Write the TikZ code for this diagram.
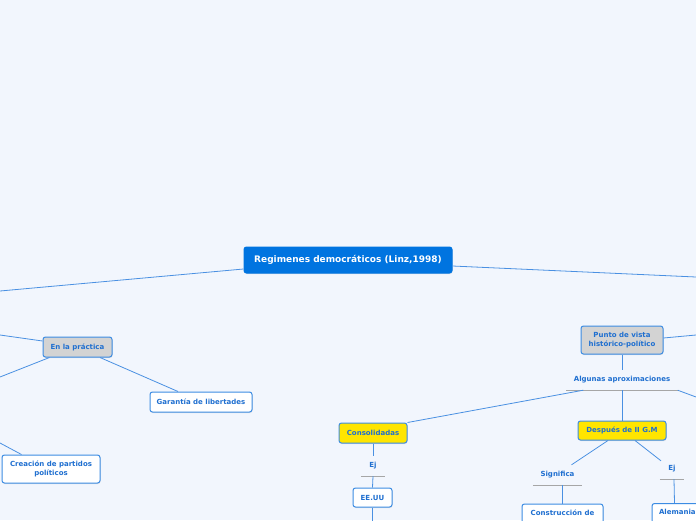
\documentclass[tikz,border=0pt]{standalone}
\usepackage{fontspec}
\setmainfont{DejaVu Sans}
\usetikzlibrary{calc, shadows}
\definecolor{cbg}{HTML}{F2F6FD}
\definecolor{cblue}{HTML}{0074E0}
\definecolor{cedge}{HTML}{4A90E2}
\definecolor{cborder}{HTML}{3C8CE3}
\definecolor{ctext}{HTML}{1F6FD0}
\definecolor{cgray}{HTML}{D3D3D3}
\definecolor{cyellow}{HTML}{FFE500}
\definecolor{cline}{HTML}{A6A6A6}
\tikzset{
  box/.style={draw=cborder, line width=1pt, rounded corners=2.5pt, inner sep=0pt,
    font=\fontsize{7}{8.5}\selectfont\bfseries, text=ctext, align=center,
    drop shadow={opacity=0.2, shadow xshift=0.5pt, shadow yshift=-1pt}},
  rootbox/.style={box, fill=cblue, draw=cblue, text=white, font=\fontsize{9}{10}\selectfont\bfseries},
  topicbox/.style={box, fill=cgray},
  keybox/.style={box, fill=cyellow},
  leafbox/.style={box, fill=white},
  lbl/.style={inner sep=0pt, minimum height=20pt, font=\fontsize{7}{8}\selectfont\bfseries, text=ctext,
    append after command={(\tikzlastnode.south west) edge[draw=cline, line width=0.8pt] (\tikzlastnode.south east)}},
  link/.style={draw=cedge, line width=0.8pt}
}
\begin{document}
\begin{tikzpicture}[x=1pt, y=-1pt]
  \fill[cbg] (0,0) rectangle (696,520);
  \clip (0,0) rectangle (696,520);

  \coordinate (offleft1) at (0,291);
  \coordinate (offleft2) at (0,335);
  \coordinate (offleft3) at (0,377);
  \coordinate (offleft4) at (0,443);
  \coordinate (offright1) at (696,277);
  \coordinate (offright2) at (696,335);
  \coordinate (offright3) at (696,397);
  \coordinate (offdown) at (372.5,526);

  \node[rootbox, minimum width=208pt, minimum height=26pt] (root) at (348,260) {Regimenes democráticos (Linz,1998)};

  \node[topicbox, minimum width=69pt, minimum height=20pt] (practica) at (77.5,347) {En la práctica};
  \node[leafbox, minimum width=102pt, minimum height=20pt] (garantia) at (201,402) {Garantía de libertades};
  \node[leafbox, minimum width=98pt, minimum height=28pt] (creacion) at (51,469) {Creación de partidos\\políticos};

  \node[topicbox, minimum width=82pt, minimum height=28pt] (punto) at (622,340) {Punto de vista\\histórico-político};
  \node[lbl, minimum width=111pt] (aprox) at (622,380) {Algunas aproximaciones};
  \node[keybox, minimum width=68pt, minimum height=20pt] (consol) at (373,433) {Consolidadas};
  \node[lbl, minimum width=24pt] (ejcons) at (373,466) {Ej};
  \node[leafbox, minimum width=39pt, minimum height=19pt] (eeuu) at (372.5,497.5) {EE.UU};
  \node[keybox, minimum width=88pt, minimum height=19pt] (despues) at (622,430.5) {Después de II G.M};
  \node[lbl, minimum width=49pt] (signif) at (557.5,475) {Significa};
  \node[lbl, minimum width=24pt] (ejdesp) at (672,469) {Ej};
  \node[leafbox, anchor=north, minimum width=81pt, inner ysep=6pt, text depth=20pt] (constr) at (562.5,503.5) {Construcción de};
  \node[leafbox, anchor=north west, inner xsep=7pt, inner ysep=6pt, text depth=20pt] (alemania) at (651.5,503) {Alemania};

  \draw[link] ($(root.west)+(0,9)$) -- (offleft1);
  \draw[link] ($(root.east)+(0,6)$) -- (offright1);
  \draw[link] ($(practica.west)+(0,-6)$) -- (offleft2);
  \draw[link] ($(practica.south west)+(7,0)$) -- (offleft3);
  \draw[link] ($(practica.south)+(22.5,0)$) -- ($(garantia.north)+(-23,0)$);
  \draw[link] (offleft4) -- ($(creacion.north west)+(20,0)$);
  \draw[link] ($(punto.east)+(0,-2)$) -- (offright2);
  \draw[link] (punto.south) -- (aprox.north);
  \draw[link] (aprox.south east) -- (offright3);
  \draw[link] ($(aprox.south west)+(17,0)$) -- (consol.north east);
  \draw[link] (aprox.south) -- (despues.north);
  \draw[link] (consol.south) -- (ejcons.north);
  \draw[link] (ejcons.south) -- (eeuu.north);
  \draw[link] (eeuu.south) -- (offdown);
  \draw[link] ($(despues.south)+(-14,0)$) -- ($(signif.north)+(14,0)$);
  \draw[link] ($(despues.south)+(13,0)$) -- ($(ejdesp.north)+(-11,2)$);
  \draw[link] ($(signif.south)+(5,0)$) -- (constr.north);
  \draw[link] ($(ejdesp.south)+(2,0)$) -- ($(alemania.north west)+(23,0)$);
\end{tikzpicture}
\end{document}
